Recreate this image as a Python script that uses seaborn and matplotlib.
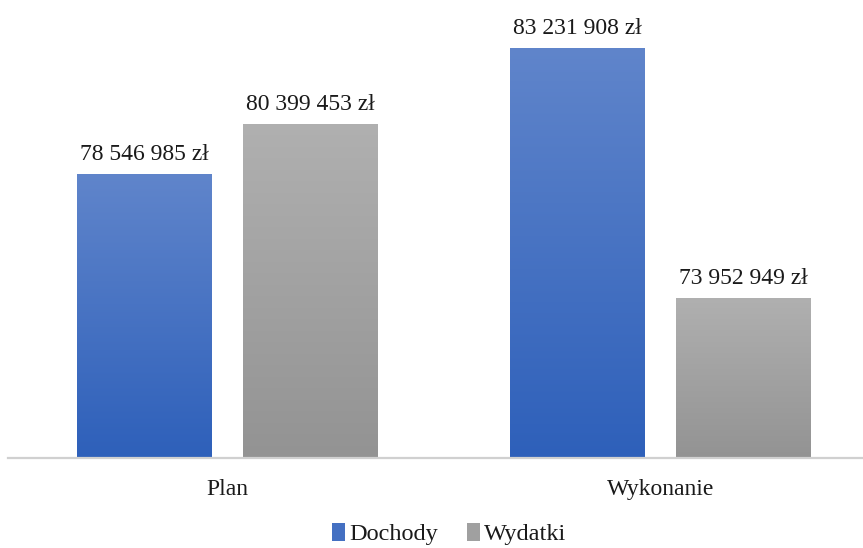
import numpy as np
import pandas as pd
import seaborn as sns
import matplotlib.pyplot as plt
from matplotlib.patches import Patch
from matplotlib.colors import LinearSegmentedColormap

# data
categories = ['Plan', 'Wykonanie']
series = ['Dochody', 'Wydatki']
dochody = [78546985, 83231908]
wydatki = [80399453, 73952949]

# gradient colours (top -> bottom) per series
grad = {
    'Dochody': ('#6085cb', '#2e60ba'),
    'Wydatki': ('#b0b0b0', '#939393'),
}

df = pd.DataFrame({
    'Etap': categories * 2,
    'Seria': [series[0]] * 2 + [series[1]] * 2,
    'Kwota': dochody + wydatki,
})

sns.set_style('white')
plt.rcParams['font.family'] = ['Liberation Serif', 'DejaVu Serif']

fig = plt.figure(figsize=(8.63, 5.48), dpi=100)
ax = fig.add_axes([8 / 863, 90 / 548, 855 / 863, 458 / 548])

sns.barplot(data=df, x='Etap', y='Kwota', hue='Seria', hue_order=series,
            palette=[grad[s][1] for s in series], width=0.767, gap=0.187,
            legend=False, ax=ax)

ax.set_ylim(68e6, 85e6)
ax.set_xlim(-0.507, 1.468)

# gradient fill of each bar, clipped to the bar
for name, cont in zip(series, ax.containers):
    cmap = LinearSegmentedColormap.from_list(name, [grad[name][1], grad[name][0]])
    for bar in cont:
        x0, y0 = bar.get_x(), bar.get_y()
        w, h = bar.get_width(), bar.get_height()
        im = ax.imshow(np.linspace(0, 1, 256).reshape(-1, 1), cmap=cmap,
                       origin='lower', aspect='auto', interpolation='bicubic',
                       extent=[x0, x0 + w, ax.get_ylim()[0], y0 + h], zorder=2)
        im.set_clip_path(bar)
        bar.set_facecolor('none')
        bar.set_edgecolor('none')
        ax.annotate(f'{int(h):,}'.replace(',', ' ') + ' zł',
                    (x0 + w / 2, y0 + h), xytext=(0, 10),
                    textcoords='offset points', ha='center', va='baseline',
                    fontsize=17, color='#1a1a1a')

ax.set_xlim(-0.507, 1.468)
ax.set_ylim(68e6, 85e6)

for s in ['left', 'right', 'top']:
    ax.spines[s].set_visible(False)
ax.spines['bottom'].set_color('#d0d0d0')
ax.spines['bottom'].set_linewidth(1.6)
ax.set_yticks([])
ax.tick_params(axis='x', length=0, pad=15, labelsize=17, labelcolor='#1a1a1a')
ax.set_xlabel('')
ax.set_ylabel('')

handles = [Patch(facecolor='#4470c2', edgecolor='none'),
           Patch(facecolor='#a0a0a0', edgecolor='none')]
fig.legend(handles, series, loc='center', bbox_to_anchor=(449 / 863, 1 - 534 / 548),
           ncol=2, frameon=False, fontsize=17.5, handlelength=0.55,
           handleheight=0.75, handletextpad=0.15, columnspacing=1.2,
           labelcolor='#1a1a1a', borderpad=0.2)

fig.savefig('out.png', dpi=100)
